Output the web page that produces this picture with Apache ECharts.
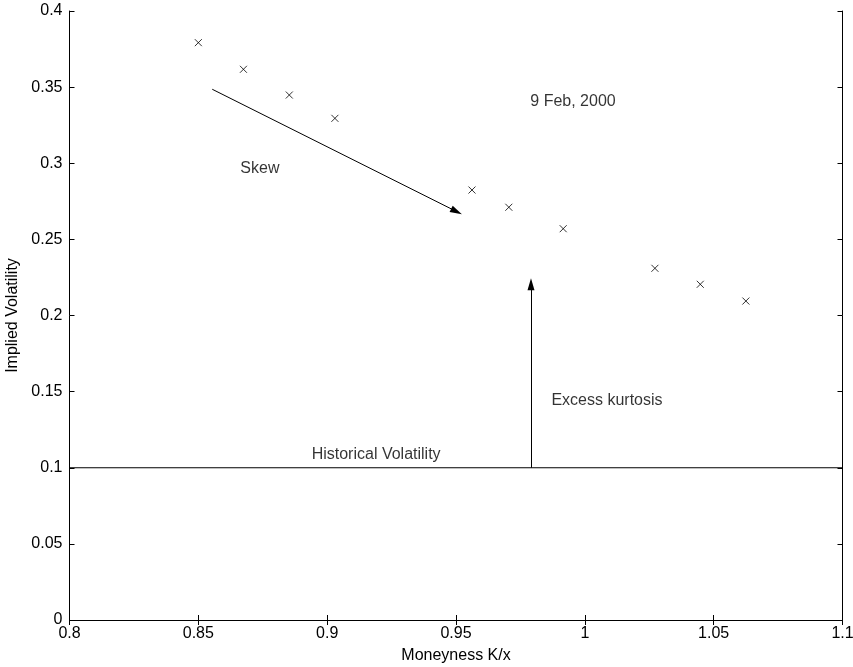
<!DOCTYPE html>
<html><head><meta charset="utf-8">
<script src="https://cdn.jsdelivr.net/npm/echarts@6/dist/echarts.min.js"></script>
<style>html,body{margin:0;padding:0;background:#fff}#c{width:853px;height:667px}</style>
</head><body><div id="c"></div>
<script>
const moneyness = [0.850, 0.8675, 0.8853, 0.9030, 0.9562, 0.9705, 0.9916, 1.0272, 1.0448, 1.0625];
const impliedVol = [0.3792, 0.3617, 0.3448, 0.3295, 0.2824, 0.2711, 0.2570, 0.2310, 0.2205, 0.2095];
const historicalVol = 0.1;
const xTicks = [0.8, 0.85, 0.9, 0.95, 1, 1.05, 1.1];
const yTicks = [0, 0.05, 0.1, 0.15, 0.2, 0.25, 0.3, 0.35, 0.4];
const skewArrow = [[0.8554, 0.3486], [0.9502, 0.2683]];
const kurtArrow = [[0.9791, 0.1], [0.9791, 0.2205]];
const annotations = [
  {text: '9 Feb, 2000', x: 0.9954, y: 0.3403},
  {text: 'Skew', x: 0.8739, y: 0.2963},
  {text: 'Excess kurtosis', x: 1.0086, y: 0.1440},
  {text: 'Historical Volatility', x: 0.919, y: 0.1087}
];

const FONT = 'Liberation Sans, Arial, sans-serif';
const FS = 16;
const chart = echarts.init(document.getElementById('c'), null, {renderer: 'canvas'});
const fmt = v => String(Math.round(v * 1000) / 1000);
const axisCommon = {
  axisLine: {show: true, lineStyle: {color: '#000', width: 1}},
  axisTick: {show: true, inside: true, length: 5, lineStyle: {color: '#000'}},
  splitLine: {show: false}
};
const arrowLine = (pts) => ({
  type: 'line', xAxisIndex: 0, yAxisIndex: 0, data: [], silent: true,
  markLine: {
    silent: true, animation: false,
    symbol: ['none', 'triangle'], symbolSize: [7, 12],
    label: {show: false},
    lineStyle: {color: '#000', width: 1, type: 'solid'},
    emphasis: {disabled: true},
    data: [[{coord: pts[0]}, {coord: pts[1]}]]
  }
});
chart.setOption({
  animation: false,
  backgroundColor: '#fff',
  grid: {left: 69.5, right: 10.5, top: 11, bottom: 47, containLabel: false, outerBoundsMode: 'none'},
  xAxis: [
    Object.assign({type: 'value', min: 0.8, max: 1.1, interval: 0.05, position: 'bottom',
      name: 'Moneyness K/x', nameLocation: 'middle', nameGap: 28,
      nameTextStyle: {color: '#000', fontSize: FS, fontFamily: FONT},
      axisLabel: {color: '#000', fontSize: FS, fontFamily: FONT, margin: 6, formatter: fmt}}, axisCommon),
    Object.assign({type: 'value', min: 0.8, max: 1.1, interval: 0.05, position: 'top',
      axisLabel: {show: false}}, axisCommon)
  ],
  yAxis: [
    Object.assign({type: 'value', min: 0, max: 0.4, interval: 0.05, position: 'left',
      name: 'Implied Volatility', nameLocation: 'middle', nameGap: 44,
      nameTextStyle: {color: '#000', fontSize: FS, fontFamily: FONT},
      axisLabel: {color: '#000', fontSize: FS, fontFamily: FONT, margin: 7, formatter: fmt}}, axisCommon),
    Object.assign({type: 'value', min: 0, max: 0.4, interval: 0.05, position: 'right',
      axisLabel: {show: false}}, axisCommon)
  ],
  series: [
    {
      type: 'scatter', xAxisIndex: 0, yAxisIndex: 0,
      data: moneyness.map((m, i) => [m, impliedVol[i]]),
      symbol: 'path://M0,0L10,10M10,0L0,10', symbolSize: 7,
      itemStyle: {color: 'none', borderColor: '#000', borderWidth: 1}
    },
    {
      type: 'line', xAxisIndex: 0, yAxisIndex: 0,
      data: [[0.8, historicalVol], [1.1, historicalVol]],
      symbol: 'none', lineStyle: {color: '#000', width: 1}
    },
    arrowLine(skewArrow),
    arrowLine(kurtArrow),
    {
      type: 'scatter', xAxisIndex: 0, yAxisIndex: 0, symbolSize: 0,
      data: annotations.map(a => ({value: [a.x, a.y], name: a.text})),
      label: {show: true, position: 'inside', formatter: p => p.name,
        color: '#000', fontSize: FS, fontFamily: FONT},
      silent: true
    }
  ]
});
</script></body></html>
